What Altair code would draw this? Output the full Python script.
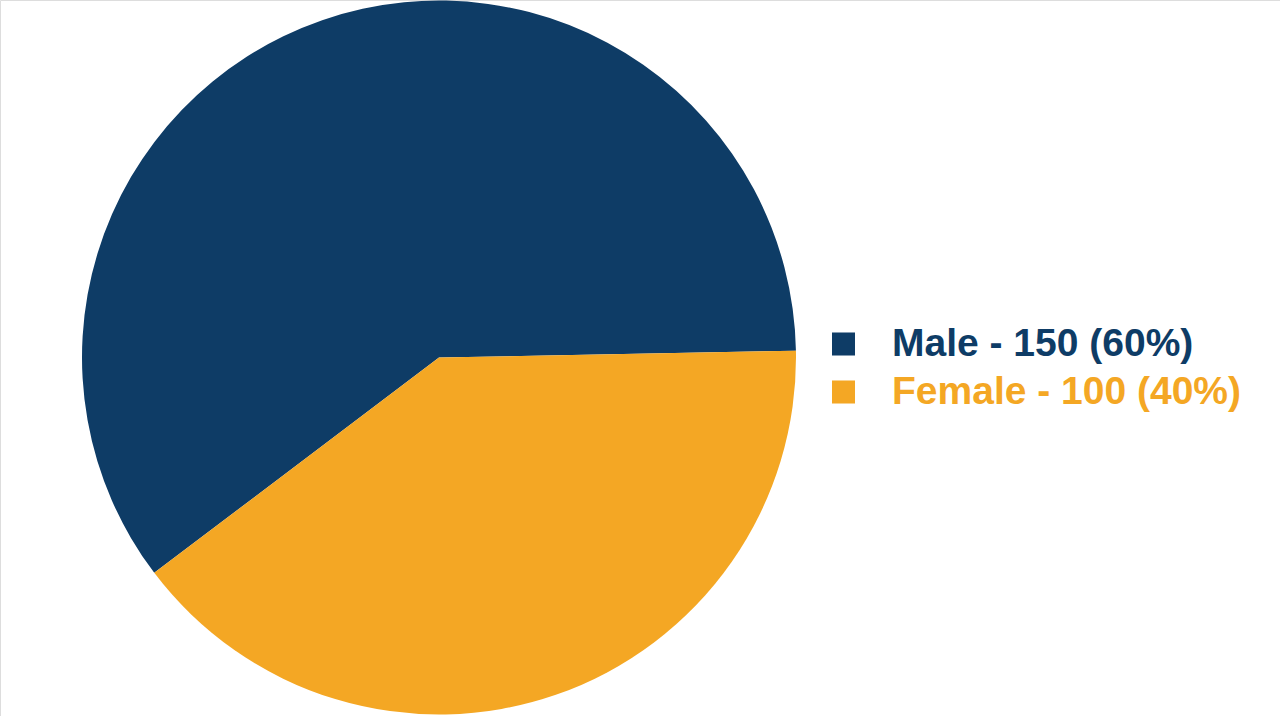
import math
import altair as alt
import pandas as pd

genders = ["Male", "Female"]
counts = [150, 100]
colors = ["#0e3c66", "#f4a724"]

df = pd.DataFrame({"gender": genders, "count": counts})

color_scale = alt.Scale(domain=genders, range=colors)
start = math.radians(88.9)

base = alt.Chart(df).transform_joinaggregate(
    total="sum(count)"
).transform_calculate(
    pct="round(100 * datum.count / datum.total)",
    label="datum.gender + ' - ' + datum.count + ' (' + datum.pct + '%)'"
)

pie = base.mark_arc(outerRadius=357, stroke=None).encode(
    theta=alt.Theta("count:Q", stack=True, scale=alt.Scale(range=[start, start + 2 * math.pi])),
    color=alt.Color("gender:N", scale=color_scale, legend=None),
    order=alt.Order("gender:N", sort="ascending"),
    x=alt.value(439),
    y=alt.value(357.5),
)

ypos = alt.Scale(type="point", domain=genders, range=[344, 392], padding=0)

squares = base.mark_square(size=530, opacity=1, filled=True).encode(
    x=alt.value(843.5),
    y=alt.Y("gender:N", scale=ypos, axis=None),
    color=alt.Color("gender:N", scale=color_scale, legend=None),
)

texts = base.mark_text(
    align="left", baseline="middle", font="Liberation Sans", fontSize=39, fontWeight="bold"
).encode(
    x=alt.value(892),
    y=alt.Y("gender:N", scale=ypos, axis=None),
    text="label:N",
    color=alt.Color("gender:N", scale=color_scale, legend=None),
)

chart = alt.layer(pie, squares, texts).properties(
    width=1280, height=716, autosize=alt.AutoSizeParams(type="none"), padding=0
).configure_view(stroke=None).configure(background="white")

chart.save("out.html", embed_options={"renderer": "svg", "actions": False})
